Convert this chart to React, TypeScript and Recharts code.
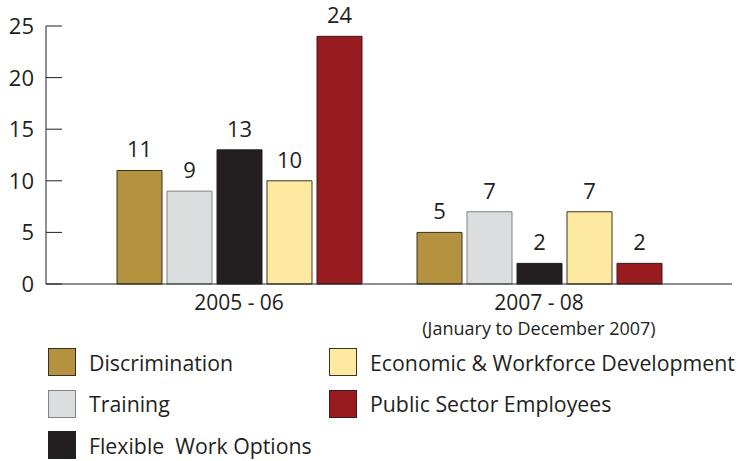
import { BarChart, Bar, XAxis, YAxis, Legend, LabelList } from "recharts";

const periods = ["2005 - 06", "2007 - 08"];
const periodNotes = ["", "(January to December 2007)"];
const discrimination = [11, 5];
const training = [9, 7];
const flexibleWork = [13, 2];
const economicWorkforce = [10, 7];
const publicSector = [24, 2];
const yTicks = [0, 5, 10, 15, 20, 25];

const series = [
  { key: "Discrimination", values: discrimination, fill: "#B59240", stroke: "#3a3020" },
  { key: "Training", values: training, fill: "#DCDDDF", stroke: "#808285" },
  { key: "Flexible  Work Options", values: flexibleWork, fill: "#231F20", stroke: "#231F20" },
  { key: "Economic & Workforce Development", values: economicWorkforce, fill: "#FEE9A0", stroke: "#3a3520" },
  { key: "Public Sector Employees", values: publicSector, fill: "#981B1F", stroke: "#3a1a1a" },
];

const data = periods.map((p, i) => {
  const row: Record<string, string | number> = { name: p, note: periodNotes[i] };
  series.forEach((s) => (row[s.key] = s.values[i]));
  return row;
});

const FONT = "'Open Sans', sans-serif";
const INK = "#231F20";

function YTick({ x, y, payload }: any) {
  return (
    <g>
      <line x1={x + 12} x2={x + 28} y1={y} y2={y} stroke={INK} strokeWidth={1} />
      <text x={x} y={y} dy={8} textAnchor="end" fontSize={22} fill={INK} fontFamily={FONT}>
        {payload.value}
      </text>
    </g>
  );
}

function XTick({ x, y, payload, index }: any) {
  const note = periodNotes[index];
  return (
    <g>
      <text x={x} y={y} dy={18} textAnchor="middle" fontSize={21} fill={INK} fontFamily={FONT}>
        {payload.value}
      </text>
      {note && (
        <text x={x} y={y} dy={43} textAnchor="middle" fontSize={18} fill={INK} fontFamily={FONT}>
          {note}
        </text>
      )}
    </g>
  );
}

const legendCols = [[0, 1, 2], [3, 4]];

function LegendBox() {
  return (
    <div style={{ position: "relative", width: 743, height: 122, fontFamily: FONT }}>
      {legendCols.map((col, ci) =>
        col.map((si, ri) => {
          const s = series[si];
          return (
            <div
              key={s.key}
              style={{
                position: "absolute",
                left: ci === 0 ? 48 : 329,
                top: 9 + ri * 41.5,
                display: "flex",
                alignItems: "center",
                height: 28,
                whiteSpace: "pre",
              }}
            >
              <span
                style={{
                  width: 26,
                  height: 26,
                  background: s.fill,
                  border: `1px solid ${s.stroke}`,
                  display: "inline-block",
                }}
              />
              <span style={{ marginLeft: 13, fontSize: 21.3, color: INK }}>{s.key}</span>
            </div>
          );
        })
      )}
    </div>
  );
}

export default function App() {
  return (
    <div style={{ position: "absolute", left: 0, top: 0, background: "#fff" }}>
      <BarChart
        width={743}
        height={461}
        data={data}
        margin={{ top: 26, right: 11, left: 0, bottom: 0 }}
        barSize={45}
        barGap={5}
      >
        <XAxis
          dataKey="name"
          height={55}
          padding={{ left: 43, right: 43 }}
          tickLine={false}
          tick={<XTick />}
          axisLine={{ stroke: INK, strokeWidth: 1 }}
          interval={0}
        />
        <YAxis
          width={46}
          domain={[0, 25]}
          ticks={yTicks}
          tickSize={0}
          tickMargin={12}
          tickLine={false}
          tick={<YTick />}
          axisLine={{ stroke: INK, strokeWidth: 1 }}
          interval={0}
        />
        <Legend
          verticalAlign="bottom"
          content={<LegendBox />}
          wrapperStyle={{ left: 0, bottom: 0, width: 743 }}
        />
        {series.map((s) => (
          <Bar
            key={s.key}
            dataKey={s.key}
            fill={s.fill}
            stroke={s.stroke}
            strokeWidth={1}
            isAnimationActive={false}
          >
            <LabelList
              dataKey={s.key}
              position="top"
              offset={13}
              fontSize={22}
              fill={INK}
              fontFamily={FONT}
            />
          </Bar>
        ))}
      </BarChart>
    </div>
  );
}
